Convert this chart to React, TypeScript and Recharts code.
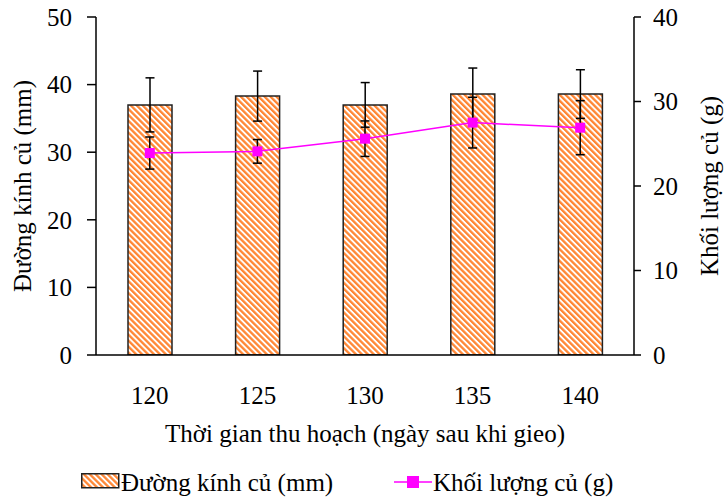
import React from 'react';
import {
  ComposedChart,
  Bar,
  Line,
  XAxis,
  YAxis,
  ErrorBar,
  Legend,
} from 'recharts';

const days = ['120', '125', '130', '135', '140'];
const diameter = [37.0, 38.3, 37.0, 38.6, 38.6];
const diameterErr = [4.0, 3.7, 3.3, 3.85, 3.6];
const mass = [23.9, 24.1, 25.6, 27.5, 26.9];
const massErr = [1.9, 1.4, 2.1, 3.0, 3.2];

const leftTicks = [0, 10, 20, 30, 40, 50];
const rightTicks = [0, 10, 20, 30, 40];

const FONT = '"Liberation Serif", "Times New Roman", serif';
const ORANGE = '#FF8633';
const MAGENTA = '#FF00FF';

const data = days.map((d, i) => ({
  day: d,
  diameter: diameter[i],
  diameterErr: diameterErr[i],
  mass: mass[i],
  massErr: massErr[i],
}));

const SquareDot = (props: any) => {
  const { cx, cy } = props;
  if (cx == null || cy == null) return null;
  return <rect x={cx - 5} y={cy - 5} width={10} height={10} fill={MAGENTA} />;
};

// nhãn trục dọc xoay -90 độ
const AxisTitle = ({ viewBox, cx, text }: any) => {
  const cy = viewBox.y + viewBox.height / 2;
  return (
    <text
      x={cx}
      y={cy}
      transform={`rotate(-90 ${cx} ${cy})`}
      textAnchor="middle"
      dominantBaseline="central"
      fontSize={25}
      fontFamily={FONT}
      fill="#000"
    >
      {text}
    </text>
  );
};

const textStyle: React.CSSProperties = {
  position: 'absolute',
  top: 15,
  lineHeight: '25px',
  whiteSpace: 'nowrap',
};

const LegendBox = () => (
  <div style={{ position: 'relative', height: 43, fontFamily: FONT, fontSize: 25, color: '#000' }}>
    <svg width={39} height={16} style={{ position: 'absolute', left: 81, top: 18 }}>
      <rect x={0.75} y={0.75} width={37} height={14} fill="url(#stripes)" stroke="#222" strokeWidth={1.5} />
    </svg>
    <span style={{ ...textStyle, left: 121 }}>Đường kính củ (mm)</span>
    <svg width={38} height={14} style={{ position: 'absolute', left: 394, top: 20 }}>
      <line x1={0} y1={7} x2={38} y2={7} stroke={MAGENTA} strokeWidth={1.5} />
      <rect x={13} y={1} width={12} height={12} fill={MAGENTA} />
    </svg>
    <span style={{ ...textStyle, left: 433 }}>Khối lượng củ (g)</span>
  </div>
);

export default function App() {
  return (
    <div style={{ position: 'absolute', left: 0, top: 0, width: 728, height: 498, background: '#fff' }}>
      <svg width={0} height={0} style={{ position: 'absolute' }}>
        <defs>
          <pattern id="stripes" width={4.2} height={4.2} patternUnits="userSpaceOnUse" patternTransform="rotate(-45)">
            <rect width={4.2} height={4.2} fill="#fff" />
            <rect width={2.3} height={4.2} fill={ORANGE} />
          </pattern>
        </defs>
      </svg>
      <ComposedChart
        width={728}
        height={498}
        data={data}
        margin={{ top: 17, right: 0, bottom: 0, left: 0 }}
        style={{ fontFamily: FONT }}
      >
        <XAxis
          dataKey="day"
          height={100}
          tickLine={false}
          tickMargin={25}
          axisLine={{ stroke: '#000', strokeWidth: 1.5 }}
          tick={{ fill: '#000', fontSize: 25, fontFamily: FONT }}
          label={{
            value: 'Thời gian thu hoạch (ngày sau khi gieo)',
            position: 'insideBottom',
            offset: 13,
            fill: '#000',
            fontSize: 25,
            fontFamily: FONT,
          }}
        />
        <YAxis
          yAxisId="left"
          orientation="left"
          width={96}
          domain={[0, 50]}
          ticks={leftTicks}
          allowDataOverflow
          tickSize={9}
          tickMargin={15}
          axisLine={{ stroke: '#000', strokeWidth: 1.5 }}
          tickLine={{ stroke: '#000', strokeWidth: 1.5 }}
          tick={{ fill: '#000', fontSize: 25, fontFamily: FONT }}
          label={(p: any) => <AxisTitle {...p} cx={22} text="Đường kính củ (mm)" />}
        />
        <YAxis
          yAxisId="right"
          orientation="right"
          width={94}
          domain={[0, 40]}
          ticks={rightTicks}
          allowDataOverflow
          tickSize={7}
          tickMargin={12}
          axisLine={{ stroke: '#000', strokeWidth: 1.5 }}
          tickLine={{ stroke: '#000', strokeWidth: 1.5 }}
          tick={{ fill: '#000', fontSize: 25, fontFamily: FONT }}
          label={(p: any) => <AxisTitle {...p} cx={709} text="Khối lượng củ (g)" />}
        />
        <Legend verticalAlign="bottom" content={<LegendBox />} wrapperStyle={{ left: 0, width: 728, height: 43 }} />
        <Bar
          yAxisId="left"
          dataKey="diameter"
          name="Đường kính củ (mm)"
          barSize={44}
          fill="url(#stripes)"
          stroke="#222"
          strokeWidth={1.5}
          isAnimationActive={false}
        >
          <ErrorBar dataKey="diameterErr" width={4.5} stroke="#000" strokeWidth={1.5} direction="y" />
        </Bar>
        <Line
          yAxisId="right"
          dataKey="mass"
          name="Khối lượng củ (g)"
          type="linear"
          stroke={MAGENTA}
          strokeWidth={1.5}
          dot={<SquareDot />}
          activeDot={false}
          isAnimationActive={false}
        >
          <ErrorBar dataKey="massErr" width={4.5} stroke="#000" strokeWidth={1.5} direction="y" />
        </Line>
      </ComposedChart>
    </div>
  );
}
